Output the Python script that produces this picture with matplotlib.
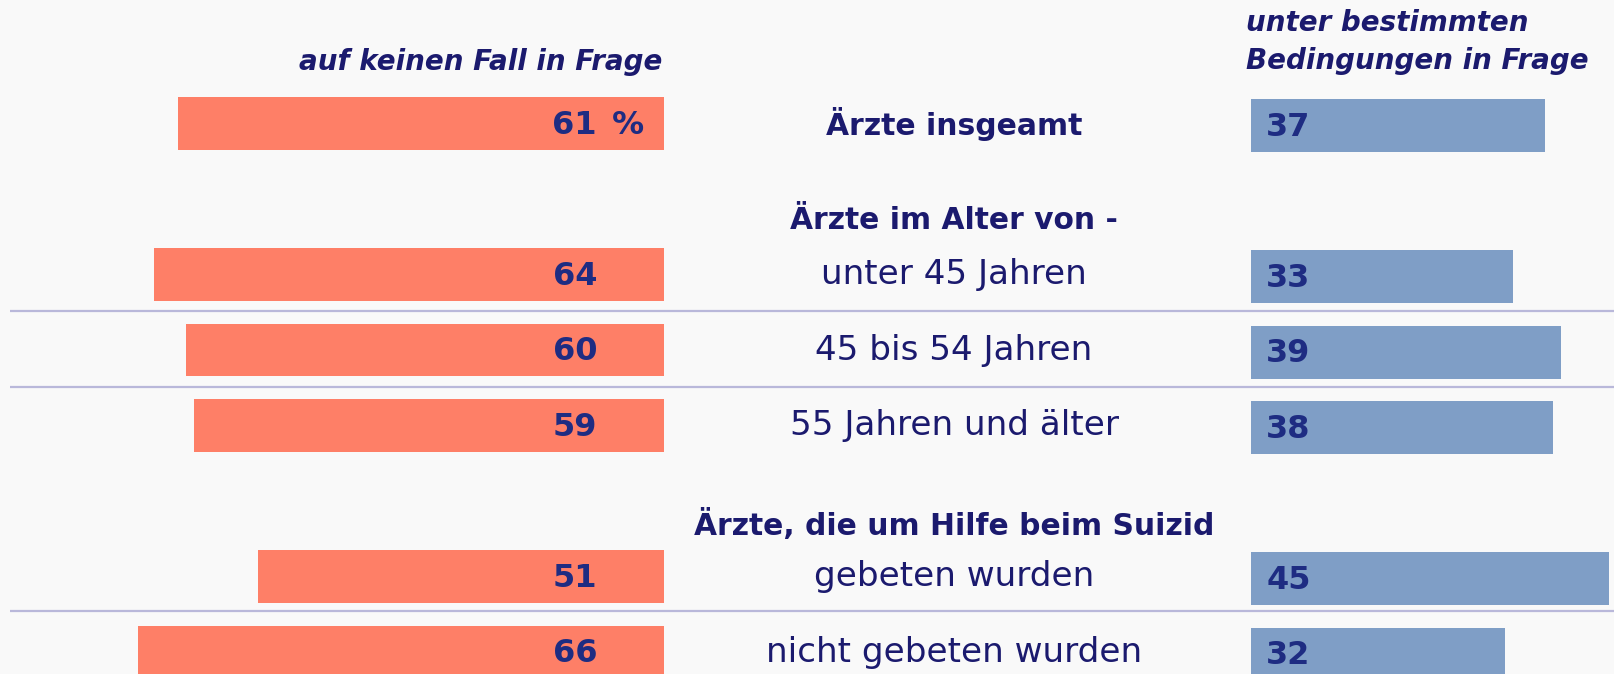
import matplotlib
matplotlib.use("Agg")
import matplotlib.pyplot as plt

# ---- data ----
categories = ["Ärzte insgeamt", "unter 45 Jahren", "45 bis 54 Jahren",
              "55 Jahren und älter", "gebeten wurden", "nicht gebeten wurden"]
bold_category = [True, False, False, False, False, False]
kein_fall = [61, 64, 60, 59, 51, 66]
bedingungen = [37, 33, 39, 38, 45, 32]
group_headers = ["Ärzte im Alter von -", "Ärzte, die um Hilfe beim Suizid"]
left_title = "auf keinen Fall in Frage"
right_title = "unter bestimmten\nBedingungen in Frage"

# ---- layout ----
W, H = 1614, 674
row_pos = [0, 2, 3, 4, 6, 7]
header_pos = [1.28, 5.32]
sep_pos = [2.48, 3.49, 6.46]
ylim = (7.29, -1.636)
cx = 954

bg = "#F9F9F9"
salmon = "#FE7F67"
blue = "#7F9EC6"
navy = "#1B1A6E"
valcol = "#1E2C82"
sepcol = "#B9B8DA"
font = ["DejaVu Sans"]

fig = plt.figure(figsize=(W / 100, H / 100), dpi=100, facecolor=bg)

ax_bg = fig.add_axes([0, 0, 1, 1])
ax_bg.set_xlim(0, W)
ax_bg.set_ylim(*ylim)
ax_bg.axis("off")
ax_bg.set_facecolor(bg)

axl = fig.add_axes([0, 0, 664 / W, 1])
axl.set_xlim(664 / 7.97, 0)
axl.set_ylim(*ylim)
axl.axis("off")

axr = fig.add_axes([1251 / W, 0, 1 - 1251 / W, 1])
axr.set_xlim(0, (W - 1251) / 7.95)
axr.set_ylim(ylim[0] - 0.03, ylim[1] - 0.03)
axr.axis("off")

for y in sep_pos:
    ax_bg.plot([10, W], [y, y], color=sepcol, lw=1.6, solid_capstyle="butt")

axl.barh(row_pos, kein_fall, height=0.70, color=salmon)
axr.barh(row_pos, bedingungen, height=0.70, color=blue)

for i, (y, v) in enumerate(zip(row_pos, kein_fall)):
    axl.text(8.4, y + 0.02, str(v), ha="right", va="center", fontsize=23,
             fontweight="bold", color=valcol, family=font)
    if i == 0:
        axl.text(7.9, y + 0.02, " %", ha="left", va="center", fontsize=23,
                 fontweight="bold", color=valcol, family=font)

for y, v in zip(row_pos, bedingungen):
    axr.text(1.9, y + 0.02, str(v), ha="left", va="center", fontsize=23,
             fontweight="bold", color=valcol, family=font)

for y, c, b in zip(row_pos, categories, bold_category):
    ax_bg.text(cx, y, c, ha="center", va="center", fontsize=21.5 if b else 24.6,
               fontweight="bold" if b else "normal", color=navy, family=font)

for y, c in zip(header_pos, group_headers):
    ax_bg.text(cx, y, c, ha="center", va="center", fontsize=21.4,
               fontweight="bold", color=navy, family=font)

ax_bg.text(662, -0.81, left_title, ha="right", va="center", fontsize=20,
           fontstyle="italic", fontweight="bold", color=navy, family=font)
ax_bg.text(1246, -1.08, right_title, ha="left", va="center", fontsize=20,
           fontstyle="italic", fontweight="bold", color=navy, family=font,
           linespacing=1.45)

fig.savefig("out.png", dpi=100, facecolor=bg)
